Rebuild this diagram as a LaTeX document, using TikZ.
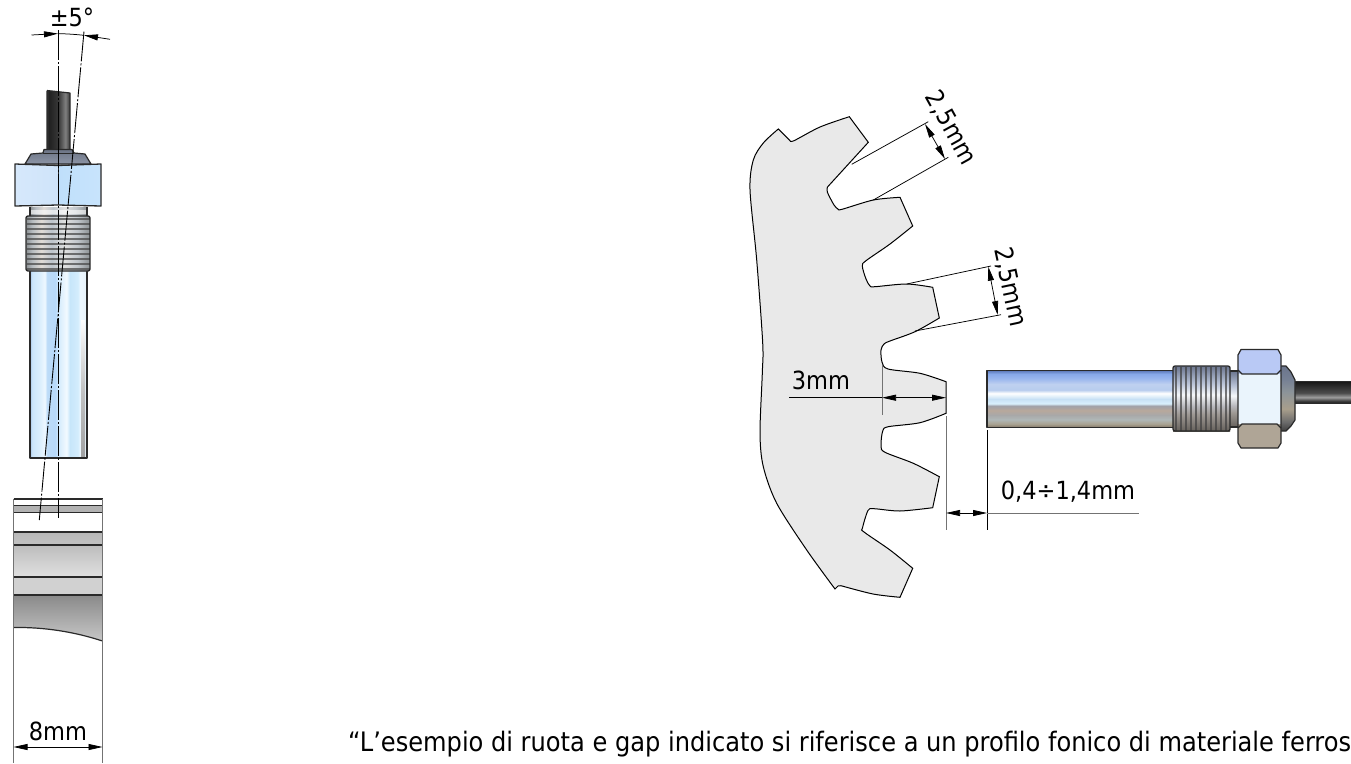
\documentclass[tikz,border=0pt]{standalone}
\usepackage{fontspec}
\setmainfont{DejaVu Sans Condensed}
\usetikzlibrary{arrows.meta}
\definecolor{ink}{HTML}{2A2A2A}
\definecolor{gearfill}{HTML}{E9E9E9}
\definecolor{nutA}{HTML}{D6E8FB}
\definecolor{nutB}{HTML}{CFE4FA}
\definecolor{nutC}{HTML}{BFDFFB}
\definecolor{nutD}{HTML}{C8E4FC}
\definecolor{hexTop}{HTML}{B9C9F5}
\definecolor{hexMid}{HTML}{EAF4FC}
\definecolor{hexBot}{HTML}{AFA596}
\definecolor{capTop}{HTML}{6C7485}
\definecolor{capBot}{HTML}{8D95A6}
\pgfdeclarehorizontalshading{tubeV}{100bp}{rgb(0bp)=(.66,.78,.91);rgb(25bp)=(.66,.78,.91);rgb(27bp)=(.80,.90,.98);rgb(33bp)=(.85,.93,.99);rgb(38bp)=(.93,.97,1);rgb(40bp)=(.74,.86,.97);rgb(47bp)=(.72,.85,.98);rgb(51bp)=(.85,.93,.99);rgb(57bp)=(.95,.98,1);rgb(60bp)=(.78,.90,.98);rgb(67bp)=(.83,.93,.99);rgb(69bp)=(.93,.97,1);rgb(75bp)=(.90,.95,.98);rgb(100bp)=(.90,.95,.98)}
\pgfdeclareverticalshading{tubeH}{100bp}{rgb(0bp)=(.50,.46,.40);rgb(25bp)=(.50,.46,.40);rgb(28bp)=(.66,.63,.56);rgb(32bp)=(.69,.72,.72);rgb(36bp)=(.66,.66,.66);rgb(40bp)=(.72,.66,.61);rgb(44bp)=(.63,.63,.66);rgb(46bp)=(.85,.94,.99);rgb(50bp)=(.78,.88,.96);rgb(55bp)=(1,1,1);rgb(58bp)=(.72,.80,.93);rgb(63bp)=(.75,.82,.94);rgb(68bp)=(.60,.71,.93);rgb(72bp)=(.53,.66,.91);rgb(75bp)=(.36,.47,.72);rgb(100bp)=(.36,.47,.72)}
\pgfdeclarehorizontalshading{threadV}{100bp}{rgb(0bp)=(.55,.57,.58);rgb(25bp)=(.55,.57,.58);rgb(30bp)=(.72,.74,.76);rgb(37bp)=(.88,.86,.84);rgb(45bp)=(.74,.77,.80);rgb(55bp)=(.88,.88,.88);rgb(65bp)=(.76,.78,.80);rgb(75bp)=(.55,.57,.58);rgb(100bp)=(.55,.57,.58)}
\pgfdeclareverticalshading{threadH}{100bp}{rgb(0bp)=(.40,.38,.36);rgb(25bp)=(.40,.38,.36);rgb(38bp)=(.62,.60,.58);rgb(44bp)=(.72,.72,.74);rgb(53bp)=(.96,.97,.98);rgb(62bp)=(.72,.76,.84);rgb(75bp)=(.42,.46,.56);rgb(100bp)=(.42,.46,.56)}
\pgfdeclarehorizontalshading{cableV}{100bp}{rgb(0bp)=(.2,.2,.2);rgb(25bp)=(.2,.2,.2);rgb(30bp)=(.13,.13,.13);rgb(50bp)=(.22,.22,.22);rgb(65bp)=(.50,.50,.50);rgb(72bp)=(.30,.30,.30);rgb(100bp)=(.30,.30,.30)}
\pgfdeclareverticalshading{cableH}{100bp}{rgb(0bp)=(.12,.12,.12);rgb(25bp)=(.12,.12,.12);rgb(30bp)=(.25,.25,.25);rgb(38bp)=(.62,.62,.62);rgb(48bp)=(.30,.30,.30);rgb(75bp)=(.08,.08,.08);rgb(100bp)=(.08,.08,.08)}
\pgfdeclareverticalshading{capH}{100bp}{rgb(0bp)=(.25,.25,.25);rgb(25bp)=(.25,.25,.25);rgb(32bp)=(.42,.42,.42);rgb(42bp)=(.66,.62,.55);rgb(55bp)=(.55,.58,.60);rgb(65bp)=(.46,.50,.58);rgb(75bp)=(.42,.46,.55);rgb(100bp)=(.42,.46,.55)}
\tikzset{
  x=1pt,y=-1pt,
  txt/.style={font=\fontsize{25}{29}\selectfont,text=black,inner sep=0pt},
  captxt/.style={font=\fontsize{26.8}{32}\selectfont,text=black,inner sep=0pt},
  outl/.style={draw=ink,line width=1.2pt,line join=round},
  dimline/.style={black,line width=.75pt},
  extgray/.style={draw=black!55,line width=1pt},
  tip/.tip={Triangle[length=14pt,width=6pt,black]},
  axisline/.style={black,line width=.9pt,dash pattern=on 30pt off 2pt on 2pt off 2pt},
  band/.style={draw=ink,line width=1.1pt},
}
\begin{document}
\begin{tikzpicture}
\useasboundingbox (0,0) rectangle (1351,763);
\clip (0,0) rectangle (1351,763);
\fill[white] (0,0) rectangle (1351,763);

% ---------- left: wheel edge view
\fill[white] (13.5,499) rectangle (102.5,532);
\fill[black!30] (13.5,506) rectangle (102.5,512);
\path[top color=black!28,bottom color=black!24] (13.5,532) rectangle (102.5,545);
\path[top color=black!26,bottom color=black!12] (13.5,545) rectangle (102.5,577);
\path[top color=black!18,bottom color=black!18] (13.5,577) rectangle (102.5,595);
\path[top color=black!46,bottom color=black!22] (13.5,595) -- (102.5,595) -- (102.5,641)
   .. controls (75,632) and (45,627) .. (13.5,627.5) -- cycle;
\draw[band] (13.5,499) -- (102.5,499);
\foreach \yy in {505.5,512.5,532,545,577,595} \draw[band] (13.5,\yy) -- (102.5,\yy);
\draw[ink,line width=1.2pt] (13.5,627.5) .. controls (45,627) and (75,632) .. (102.5,641);
\draw[extgray] (13.5,499) -- (13.5,763);
\draw[extgray] (102.5,499) -- (102.5,763);
\draw[dimline,tip-tip] (13.5,747) -- (102.5,747);
\node[txt] (t8) at (58,731.5) {8mm};

% ---------- left: sensor
\shade[shading=cableV] (47,90.5) -- (70,93) -- (70,151) -- (47,151) -- cycle;
\draw[outl] (47,90.5) -- (70,93) -- (70,151) (47,90.5) -- (47,151);
\path[outl,top color=capTop,bottom color=capBot]
  (25,164) -- (31,154) -- (43,153) -- (44,149.5) -- (72,149.5) -- (74,153) -- (85,154) -- (91,164) -- cycle;
\draw[ink,line width=.8pt] (43,153) -- (74,153);
\shade[shading=threadV] (30,207) rectangle (87,216);
\fill[white,opacity=.6] (30,210) rectangle (87,214);
\draw[outl] (30,207) -- (30,216) (87,207) -- (87,216);
\shade[shading=tubeV] (30,271) rectangle (87,458);
\path[top color=white,bottom color=black!40,opacity=.9,middle color=black!25] (81,320) rectangle (85,458);
\draw[outl,line width=1.4pt] (30,271) -- (30,458) -- (87,458) -- (87,271);
\shade[shading=threadV,rounded corners=2pt] (26,216) rectangle (90,271);
\foreach \yy in {219,224,...,270} \draw[black!70,line width=1.6pt,opacity=.75] (26.5,\yy) -- (89.5,\yy);
\draw[outl,rounded corners=2pt,line width=1.4pt] (26,216) rectangle (90,271);
\path[left color=nutA,right color=nutB] (15,164) -- (58,165.5) -- (58,205) -- (15,206) -- cycle;
\path[left color=nutC,right color=nutD] (58,165.5) -- (101,164) -- (101,206) -- (58,205) -- cycle;
\draw[outl,line width=1.3pt] (15,164) -- (58,165.5) -- (101,164) -- (101,206) -- (58,205) -- (15,206) -- cycle;
\draw[ink,line width=1pt] (58,165.5) -- (58,205);
\draw[axisline] (58,30) -- (58,518);
\draw[axisline] (84,31.5) -- (39.3,520);
\draw[dimline] (58,33.6) to[bend left=2] (84,35.3);
\draw[dimline,-tip] (31.5,35) -- (58,33.6);
\draw[dimline,-tip] (110,39.3) -- (84,35.3);
\node[txt] (t5) at (72,17) {±5°};

% ---------- right: gear
\draw[fill=gearfill,draw=black,line width=1pt,line join=miter]
  (778.3,129) -- (790,140.7)
  -- plot[smooth,tension=.5] coordinates {(790,140.7) (794,140.7) (820,127) (849.3,116.7)}
  -- (868.3,142.3) -- (827.5,187)
  -- plot[smooth,tension=.5] coordinates {(827.5,187) (827.3,192) (834,205) (838,209) (842,209.3) (873.3,200) (900,197.3)}
  -- (912.7,226)
  -- plot[smooth,tension=.5] coordinates {(912.7,226) (890,244) (866,260.7) (862.3,266) (866,279) (870,286) (875,286.7) (906.7,284) (932.7,287.3)}
  -- (939.3,318)
  -- plot[smooth,tension=.5] coordinates {(939.3,318) (915,331.7) (890,341) (884,344) (881,350) (882,362) (888,369) (920,373.3) (946,381.7)}
  -- (946,413.3)
  -- plot[smooth,tension=.5] coordinates {(946,413.3) (920,422.7) (888.3,426.7) (882.7,431) (881,446) (885,452.3) (913.3,463.3) (939.3,476.7)}
  -- (932.7,507.7)
  -- plot[smooth,tension=.5] coordinates {(932.7,507.7) (900,511) (874,508.7) (868,510.5) (862.5,528) (864,532) (890,550) (912.7,568.3)}
  -- (900,597.3)
  -- plot[smooth,tension=.5] coordinates {(900,597.3) (873,594) (841,585.7)}
  -- (838,586) -- (835,589)
  -- plot[smooth,tension=.5] coordinates {(835,589) (806.7,550) (776.7,503.3) (763.3,466.7) (760,433) (762.3,373) (762.7,343) (756.7,260) (750,190) (753.3,160) (763.3,143) (778.3,129)}
  -- cycle;

% ---------- right: sensor
\shade[shading=cableH] (1295,381) rectangle (1351,403);
\draw[outl,line width=.8pt] (1295,381) -- (1351,381) (1295,403) -- (1351,403);
\shade[shading=capH] (1281,366) -- (1286,366) -- (1291,372) -- (1295,380) -- (1295,420) -- (1291,426) -- (1286,431) -- (1281,431) -- cycle;
\draw[outl] (1281,366) -- (1286,366) -- (1291,372) -- (1295,380) -- (1295,420) -- (1291,426) -- (1286,431) -- (1281,431);
\shade[shading=threadH] (1230,371) rectangle (1239,427);
\draw[outl] (1230,371) -- (1239,371) (1230,427) -- (1239,427);
\shade[shading=tubeH] (987,370.5) rectangle (1173,427.5);
\draw[outl,line width=1.1pt] (1173,370.5) -- (987,370.5) -- (987,427.5) -- (1173,427.5);
\shade[shading=threadH] (1173,366) rectangle (1230,431);
\foreach \xx in {1176,1181,...,1229} \draw[black!75,line width=1.6pt,opacity=.7] (\xx,366.5) -- (\xx,430.5);
\draw[outl,rounded corners=2pt,line width=1.3pt] (1173,366) rectangle (1230,431);
\fill[hexTop] (1238,355) -- (1241,349.5) -- (1278,349.5) -- (1281,355) -- (1281,374) -- (1238,374) -- cycle;
\fill[hexMid] (1238,374) rectangle (1281,424);
\fill[hexBot] (1238,424) -- (1281,424) -- (1281,443) -- (1278,448) -- (1241,448) -- (1238,443) -- cycle;
\draw[outl] (1238,355) -- (1241,349.5) -- (1278,349.5) -- (1281,355) -- (1281,443) -- (1278,448) -- (1241,448) -- (1238,443) -- cycle;
\draw[ink,line width=1.1pt] (1238,370) -- (1242,374) -- (1277,374) -- (1281,370);
\draw[ink,line width=1.1pt] (1238,428) -- (1242,424) -- (1277,424) -- (1281,428);

% ---------- right: dimensions
\draw[dimline] (851.7,164.3) -- (928.3,121.7);
\draw[dimline] (873.3,200) -- (948.3,157.3);
\draw[dimline,tip-tip] (925,124) -- (945,159);
\node[txt,rotate=-61] (t25a) at (951,128) {2,5mm};
\draw[dimline] (906.7,284) -- (991,266);
\draw[dimline] (915,331) -- (1001,314.7);
\draw[dimline,tip-tip] (988.3,266.7) -- (997.7,315);
\node[txt,rotate=-78] (t25b) at (1010,287) {2,5mm};
\draw[extgray] (882,365) -- (882,414.5);
\draw[dimline] (789,397.7) -- (882,397.7);
\draw[dimline,tip-tip] (882,397.7) -- (946,397.7);
\node[txt] (t3) at (821,380) {3mm};
\draw[extgray] (946,416) -- (946,530);
\draw[dimline] (987,430) -- (987,530);
\draw[extgray,line width=.8pt] (987,513) -- (1139,513);
\draw[dimline,tip-tip] (946,513) -- (987,513);
\node[txt] (t04) at (1068,492) {0,4÷1,4mm};

% ---------- caption (runs off the page, as in the source)
\node[captxt,anchor=base west] (cap) at (348,751) {“L’esempio di ruota e gap indicato si riferisce a un profilo fonico di materiale ferros};
\end{tikzpicture}
\end{document}
